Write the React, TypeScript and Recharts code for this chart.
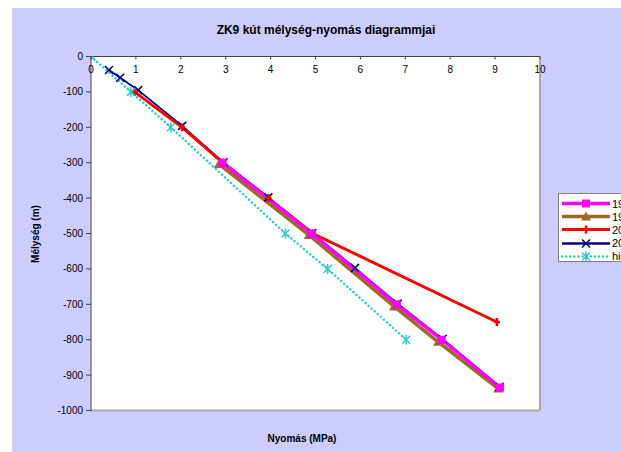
import React from 'react';
import { LineChart, Line, XAxis, YAxis, ReferenceLine, CartesianGrid } from 'recharts';

const xTicks = [0, 1, 2, 3, 4, 5, 6, 7, 8, 9, 10];
const yTicks = [0, -100, -200, -300, -400, -500, -600, -700, -800, -900, -1000];
const seriesNames = ['1998', '1999', '2005', '2007', 'hidrosztatikus'];

const pinkPressure = [2.93, 4.92, 6.81, 7.81, 9.11];
const pinkDepth = [-300, -500, -700, -800, -935];

const brownPressure = [2.85, 4.85, 6.75, 7.73, 9.07];
const brownDepth = [-304, -504, -706, -806, -938];

const redPressure = [0.97, 2.03, 2.93, 3.95, 4.94, 9.04];
const redDepth = [-100, -200, -300, -400, -500, -750];

const navyPressure = [0.4, 0.65, 1.05, 2.03, 2.95, 3.95, 4.93, 5.88, 6.83, 7.83, 9.1];
const navyDepth = [-38, -60, -95, -196, -299, -398, -499, -597, -698, -798, -933];

const cyanPressure = [0, 0.89, 1.78, 4.33, 5.27, 7.02];
const cyanDepth = [0, -100, -200, -500, -600, -800];

const toData = (p: number[], d: number[]) => p.map((v, i) => ({ p: v, d: d[i] }));

const pinkData = toData(pinkPressure, pinkDepth);
const brownData = toData(brownPressure, brownDepth);
const redData = toData(redPressure, redDepth);
const navyData = toData(navyPressure, navyDepth);
const cyanData = toData(cyanPressure, cyanDepth);

const PINK = '#FF00FF';
const BROWN = '#9C6A22';
const RED = '#FF0000';
const NAVY = '#000080';
const CYAN = '#33CCCC';

const Square = ({ cx, cy }: any) => <rect x={cx - 4} y={cy - 4} width={8} height={8} fill={PINK} />;
const Triangle = ({ cx, cy }: any) => (
  <polygon points={`${cx},${cy - 5} ${cx - 5},${cy + 4} ${cx + 5},${cy + 4}`} fill={BROWN} />
);
const Plus = ({ cx, cy }: any) => (
  <path d={`M${cx - 3},${cy} H${cx + 3} M${cx},${cy - 4} V${cy + 4}`} stroke={RED} strokeWidth={2.5} fill="none" />
);
const Cross = ({ cx, cy }: any) => (
  <path d={`M${cx - 4},${cy - 4} L${cx + 4},${cy + 4} M${cx + 4},${cy - 4} L${cx - 4},${cy + 4}`} stroke={NAVY} strokeWidth={1.6} fill="none" />
);
const Star = ({ cx, cy }: any) => (
  <path d={`M${cx - 4},${cy - 4} L${cx + 4},${cy + 4} M${cx + 4},${cy - 4} L${cx - 4},${cy + 4} M${cx},${cy - 5} V${cy + 5}`} stroke={CYAN} strokeWidth={1.5} fill="none" />
);

const mk = (C: any) => (props: any) => <C key={`m-${props.index}`} cx={props.cx} cy={props.cy} />;

const TopTick = (props: any) => {
  const { x, y, payload } = props;
  return (
    <g>
      <line x1={x} x2={x} y1={y} y2={y + 3} stroke="#444" strokeWidth={1} />
      <text x={x} y={y + 16} textAnchor="middle" fontSize={10} fill="#000" fontFamily='"Liberation Sans", Arial, sans-serif'>
        {payload.value}
      </text>
    </g>
  );
};

const legendItems = [
  { name: seriesNames[0], color: PINK, width: 3.5, dash: undefined, M: Square },
  { name: seriesNames[1], color: BROWN, width: 3.5, dash: undefined, M: Triangle },
  { name: seriesNames[2], color: RED, width: 3, dash: undefined, M: Plus },
  { name: seriesNames[3], color: NAVY, width: 2.5, dash: undefined, M: Cross },
  { name: seriesNames[4], color: CYAN, width: 2.5, dash: '0.1 4', M: Star },
];

export default function App() {
  return (
    <div
      style={{
        position: 'absolute',
        left: 12,
        top: 8,
        width: 609,
        height: 444,
        background: '#CCCCFF',
        overflow: 'hidden',
        fontFamily: '"Liberation Sans", Arial, sans-serif',
      }}
    >
      <div
        style={{
          position: 'absolute',
          left: 114,
          top: 15,
          width: 400,
          textAlign: 'center',
          fontSize: 12,
          lineHeight: '14px',
          fontWeight: 'bold',
          color: '#000',
        }}
      >
        ZK9 kút mélység-nyomás diagrammjai
      </div>
      <LineChart width={609} height={444} margin={{ top: 46.5, right: 81, bottom: 41.5, left: 39 }}>
        <CartesianGrid horizontal={false} vertical={false} fill="#FFFFFF" fillOpacity={1} stroke="none" />
        <XAxis
          type="number"
          dataKey="p"
          domain={[0, 10]}
          ticks={xTicks}
          orientation="top"
          height={2}
          tickSize={0}
          tickMargin={0}
          allowDataOverflow
          stroke="#444"
          tick={<TopTick />}
        />
        <YAxis
          type="number"
          dataKey="d"
          domain={[-1000, 0]}
          ticks={yTicks}
          width={40}
          tickSize={5}
          tickMargin={3}
          allowDataOverflow
          stroke="#444"
          tick={{ fontSize: 10, fill: '#000' }}
        />
        <ReferenceLine x={10} stroke="#A8A8A8" strokeWidth={2} />
        <ReferenceLine y={-1000} stroke="#A8A8A8" strokeWidth={2} />
        <Line data={brownData} dataKey="d" stroke={BROWN} strokeWidth={3.5} dot={mk(Triangle)} isAnimationActive={false} />
        <Line data={navyData} dataKey="d" stroke={NAVY} strokeWidth={1.8} dot={mk(Cross)} isAnimationActive={false} />
        <Line data={redData} dataKey="d" stroke={RED} strokeWidth={3} dot={mk(Plus)} isAnimationActive={false} />
        <Line data={pinkData} dataKey="d" stroke={PINK} strokeWidth={3.5} dot={mk(Square)} isAnimationActive={false} />
        <Line
          data={cyanData}
          dataKey="d"
          stroke={CYAN}
          strokeWidth={2.5}
          strokeDasharray="0.1 4"
          strokeLinecap="round"
          dot={mk(Star)}
          isAnimationActive={false}
        />
      </LineChart>
      <div
        style={{
          position: 'absolute',
          left: 8,
          top: 226,
          transform: 'translate(-50%, -50%) rotate(-90deg)',
          transformOrigin: 'center',
          whiteSpace: 'nowrap',
          fontSize: 10,
          fontWeight: 'bold',
          color: '#000',
          marginLeft: 15,
        }}
      >
        Mélység (m)
      </div>
      <div
        style={{
          position: 'absolute',
          left: 190,
          top: 425,
          width: 200,
          textAlign: 'center',
          fontSize: 10,
          lineHeight: '12px',
          fontWeight: 'bold',
          color: '#000',
        }}
      >
        Nyomás (MPa)
      </div>
      <div
        style={{
          position: 'absolute',
          left: 546,
          top: 185,
          width: 90,
          height: 69,
          background: '#FFFFFF',
          border: '1px solid #808080',
          boxSizing: 'border-box',
        }}
      >
        {legendItems.map((it, i) => (
          <div
            key={it.name}
            style={{ position: 'absolute', left: 0, top: 3 + i * 13.2, height: 13, display: 'flex', alignItems: 'center' }}
          >
            <svg width={52} height={13} style={{ display: 'block' }}>
              <line
                x1={3}
                x2={51}
                y1={6.5}
                y2={6.5}
                stroke={it.color}
                strokeWidth={it.width}
                strokeDasharray={it.dash}
                strokeLinecap={it.dash ? 'round' : 'butt'}
              />
              <it.M cx={27} cy={6.5} />
            </svg>
            <span style={{ fontSize: 11, color: '#000', marginLeft: 1, whiteSpace: 'nowrap' }}>{it.name}</span>
          </div>
        ))}
      </div>
    </div>
  );
}
